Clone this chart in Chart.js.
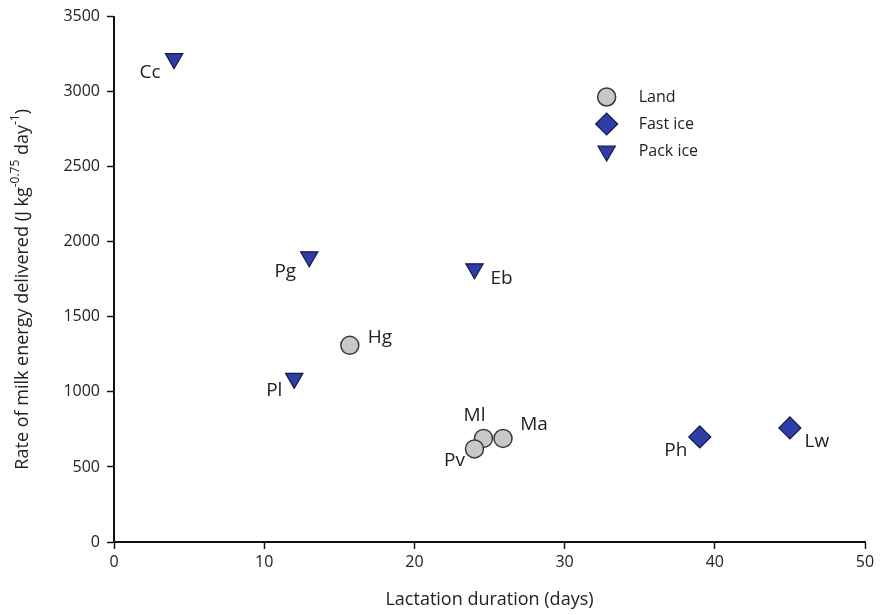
<!DOCTYPE html>
<html>
<head>
<meta charset="utf-8">
<script src="https://cdn.jsdelivr.net/npm/chart.js@4"></script>
<style>
  html, body { margin: 0; padding: 0; background: #fff; }
  #wrap { width: 880px; height: 615px; }
</style>
</head>
<body>
<div id="wrap"><canvas id="chart" width="880" height="615"></canvas></div>
<script>
// Data
const landNames = ["Hg", "Ml", "Ma", "Pv"];
const landX = [15.7, 24.6, 25.9, 24.0];
const landY = [1310, 690, 690, 620];

const fastNames = ["Ph", "Lw"];
const fastX = [39, 45];
const fastY = [700, 760];

const packNames = ["Cc", "Pg", "Eb", "Pl"];
const packX = [4, 13, 24, 12];
const packY = [3220, 1900, 1820, 1090];

const xTicks = [0, 10, 20, 30, 40, 50];
const yTicks = [0, 500, 1000, 1500, 2000, 2500, 3000, 3500];

const FONT = "'Open Sans', sans-serif";
const TEXT = "#222";

// label offsets (dx, dy) for each species label
const labelPos = {
  Cc: [-24, 14], Pg: [-24, 15], Eb: [27, 10], Pl: [-20, 12],
  Hg: [30, -8], Ml: [-9, -23], Ma: [31, -14], Pv: [-20, 12],
  Ph: [-24, 14], Lw: [27, 14]
};

function pts(xs, ys) {
  return xs.map((x, i) => ({ x: x, y: ys[i] }));
}

const pointLabels = {
  id: "pointLabels",
  afterDatasetsDraw(chart) {
    const ctx = chart.ctx;
    ctx.save();
    ctx.font = "19px " + FONT;
    ctx.fillStyle = TEXT;
    ctx.textAlign = "center";
    ctx.textBaseline = "middle";
    chart.data.datasets.forEach((ds, di) => {
      chart.getDatasetMeta(di).data.forEach((el, i) => {
        const name = ds.names[i];
        const off = labelPos[name] || [0, 0];
        ctx.fillText(name, el.x + off[0], el.y + off[1]);
      });
    });
    ctx.restore();
  }
};

const insideLegend = {
  id: "insideLegend",
  afterDraw(chart) {
    const ctx = chart.ctx;
    const xs = chart.scales.x;
    const sx = xs.getPixelForValue(32.8);
    const tx = sx + 32;
    let y = 97;
    ctx.save();
    ctx.font = "16px " + FONT;
    ctx.textBaseline = "middle";
    ctx.textAlign = "left";
    chart.data.datasets.forEach(ds => {
      ctx.fillStyle = ds.backgroundColor;
      ctx.strokeStyle = ds.borderColor;
      ctx.lineWidth = ds.borderWidth;
      Chart.helpers.drawPoint(ctx, {
        pointStyle: ds.pointStyle,
        radius: ds.pointRadius,
        rotation: ds.rotation || 0,
        borderWidth: ds.borderWidth
      }, sx, y);
      ctx.fillStyle = TEXT;
      ctx.fillText(ds.label, tx, y);
      y += 27;
    });
    ctx.restore();
  }
};

const yTitle = {
  id: "yTitle",
  afterDraw(chart) {
    const ctx = chart.ctx;
    const a = chart.chartArea;
    ctx.save();
    ctx.translate(23, (a.top + a.bottom) / 2 + 10);
    ctx.rotate(-Math.PI / 2);
    const parts = [
      ["Rate of milk energy delivered (J kg", 18, 0],
      ["-0.75", 12, -7],
      [" day", 18, 0],
      ["-1", 12, -7],
      [")", 18, 0]
    ];
    let w = 0;
    parts.forEach(p => { ctx.font = p[1] + "px " + FONT; w += ctx.measureText(p[0]).width; });
    let x = -w / 2;
    ctx.fillStyle = TEXT;
    ctx.textBaseline = "middle";
    ctx.textAlign = "left";
    parts.forEach(p => {
      ctx.font = p[1] + "px " + FONT;
      ctx.fillText(p[0], x, p[2]);
      x += ctx.measureText(p[0]).width;
    });
    ctx.restore();
  }
};

new Chart(document.getElementById("chart"), {
  type: "scatter",
  data: {
    datasets: [
      {
        label: "Land", names: landNames, data: pts(landX, landY),
        pointStyle: "circle", pointRadius: 9, pointHoverRadius: 9,
        backgroundColor: "#c8c8c8", borderColor: "#3a3a3a", borderWidth: 1.5
      },
      {
        label: "Fast ice", names: fastNames, data: pts(fastX, fastY),
        pointStyle: "rectRot", pointRadius: 11, pointHoverRadius: 11,
        backgroundColor: "#2f3ea6", borderColor: "#141a4a", borderWidth: 1.2
      },
      {
        label: "Pack ice", names: packNames, data: pts(packX, packY),
        pointStyle: "triangle", rotation: 180, pointRadius: 10, pointHoverRadius: 10,
        backgroundColor: "#2f3ea6", borderColor: "#141a4a", borderWidth: 1.2
      }
    ]
  },
  options: {
    responsive: false,
    animation: false,
    layout: { padding: { top: 16, right: 15, left: 0, bottom: 0 } },
    plugins: {
      legend: { display: false },
      tooltip: { enabled: false }
    },
    scales: {
      x: {
        type: "linear", min: 0, max: 50,
        afterBuildTicks: s => { s.ticks = xTicks.map(v => ({ value: v })); },
        grid: { drawOnChartArea: false, color: "#111", tickLength: 7, tickWidth: 1.5 },
        border: { color: "#111", width: 2 },
        ticks: { color: TEXT, font: { family: FONT, size: 16 }, padding: 4,
                 callback: v => String(v) },
        title: { display: true, text: "Lactation duration (days)", color: TEXT,
                 font: { family: FONT, size: 18 }, padding: { top: 8 } },
        afterFit: s => { s.height = 73; }
      },
      y: {
        type: "linear", min: 0, max: 3500,
        afterBuildTicks: s => { s.ticks = yTicks.map(v => ({ value: v })); },
        grid: { drawOnChartArea: false, color: "#111", tickLength: 7, tickWidth: 1.5 },
        border: { color: "#111", width: 2 },
        ticks: { color: TEXT, font: { family: FONT, size: 16 }, padding: 7,
                 callback: v => String(v) },
        afterFit: s => { s.width = 114; }
      }
    }
  },
  plugins: [pointLabels, insideLegend, yTitle]
});
</script>
</body>
</html>
